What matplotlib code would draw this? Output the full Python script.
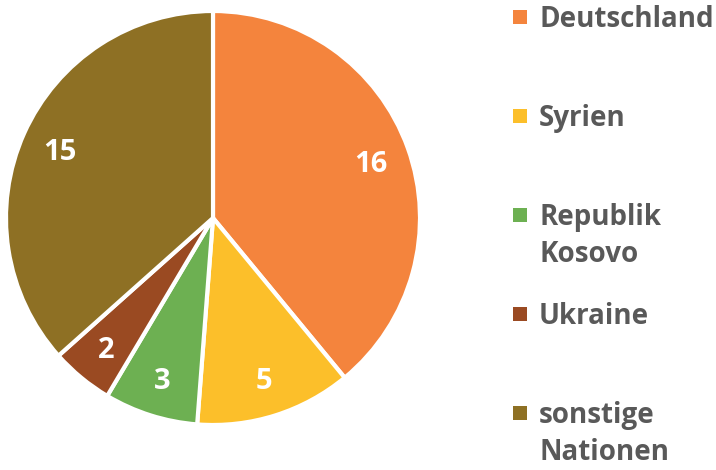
import matplotlib.pyplot as plt
from matplotlib.patches import Rectangle

# data
nations = ["Deutschland", "Syrien", "Republik\nKosovo", "Ukraine", "sonstige\nNationen"]
counts = [16, 5, 3, 2, 15]
colors = ["#F4843D", "#FCBF2A", "#6DB052", "#9A4A22", "#8E7024"]

plt.rcParams['font.family'] = ['Open Sans', 'DejaVu Sans']

W, H = 716, 470
fig = plt.figure(figsize=(W / 100, H / 100), dpi=100)

# pie axes: centre (213, 218), radius 207 px
r = 207
cx, cy = 213, 218
ax = fig.add_axes([(cx - r) / W, 1 - (cy + r) / H, 2 * r / W, 2 * r / H])
ax.pie(counts, colors=colors, startangle=90, counterclock=False,
       labels=[str(c) for c in counts], labeldistance=0.81,
       wedgeprops=dict(edgecolor="white", linewidth=3),
       textprops=dict(color="white", fontsize=21, fontweight="bold"),
       radius=1)
for t in ax.texts:
    t.set_horizontalalignment("center")
    t.set_verticalalignment("center_baseline")
ax.set_xlim(-1, 1)
ax.set_ylim(-1, 1)
ax.set_aspect("equal")

# legend, drawn by hand (baselines in px from top)
for i, (name, col) in enumerate(zip(nations, colors)):
    base = 27 + 99 * i
    fig.patches.append(Rectangle((513 / W, 1 - (base - 3) / H), 14 / W, 14 / H,
                                 transform=fig.transFigure, facecolor=col,
                                 edgecolor="none"))
    for j, line in enumerate(name.split("\n")):
        fig.text(539 / W, 1 - (base + 37 * j) / H, line, fontsize=20,
                 fontweight="bold", color="#595959", va="baseline", ha="left")

fig.savefig("out.png", dpi=100)
